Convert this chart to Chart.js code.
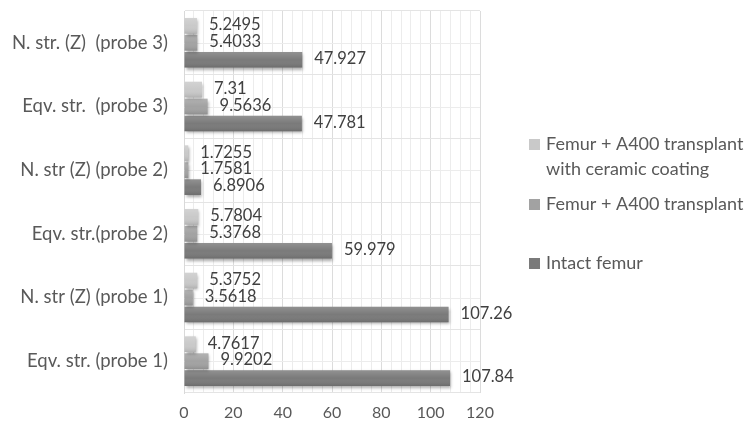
<!DOCTYPE html>
<html>
<head>
<meta charset="utf-8">
<script src="https://cdn.jsdelivr.net/npm/chart.js@4.4.1/dist/chart.umd.min.js"></script>
<style>
  html, body { margin: 0; padding: 0; background: #ffffff; }
  #wrap { width: 747px; height: 430px; position: relative; }
</style>
</head>
<body>
<div id="wrap"><canvas id="c" width="747" height="430"></canvas></div>
<script>
const categories = ['N. str. (Z)  (probe 3)', 'Eqv. str.  (probe 3)', 'N. str (Z) (probe 2)', 'Eqv. str.(probe 2)', 'N. str (Z) (probe 1)', 'Eqv. str. (probe 1)'];
const seriesNames = [['Femur + A400 transplant', 'with ceramic coating'], ['Femur + A400 transplant'], ['Intact femur']];
const ceramic = [5.2495, 7.31, 1.7255, 5.7804, 5.3752, 4.7617];
const a400 = [5.4033, 9.5636, 1.7581, 5.3768, 3.5618, 9.9202];
const intact = [47.927, 47.781, 6.8906, 59.979, 107.26, 107.84];
const xTickLabels = [0, 20, 40, 60, 80, 100, 120];

const colors = ['#c9c9c9', '#a2a2a2', '#7a7a7a'];
const FONT = 'Lato, "Open Sans", sans-serif';

// minor horizontal gridlines through category centres
const midLinesPlugin = {
  id: 'midLines',
  beforeDatasetsDraw(chart) {
    const c = chart.ctx, y = chart.scales.y, a = chart.chartArea;
    c.save();
    c.strokeStyle = '#ececec';
    c.lineWidth = 1;
    chart.data.labels.forEach((_, i) => {
      const py = Math.round(y.getPixelForValue(i)) + 0.5;
      c.beginPath(); c.moveTo(a.left, py); c.lineTo(a.right, py); c.stroke();
    });
    c.restore();
  }
};

const shadowPlugin = {
  id: 'shadow',
  beforeDatasetsDraw(chart) {
    const c = chart.ctx;
    c.save();
    c.shadowColor = 'rgba(0,0,0,0.35)';
    c.shadowBlur = 3;
    c.shadowOffsetX = 1;
    c.shadowOffsetY = 2;
  },
  afterDatasetsDraw(chart) {
    chart.ctx.restore();
  }
};

const shadePlugin = {
  id: 'shade',
  afterDatasetsDraw(chart) {
    const c = chart.ctx;
    c.save();
    chart.data.datasets.forEach((ds, i) => {
      chart.getDatasetMeta(i).data.forEach(el => {
        const top = el.y - el.height / 2, h = el.height;
        const g = c.createLinearGradient(0, top, 0, top + h);
        g.addColorStop(0, 'rgba(255,255,255,0.18)');
        g.addColorStop(0.5, 'rgba(255,255,255,0)');
        g.addColorStop(1, 'rgba(0,0,0,0.12)');
        c.fillStyle = g;
        c.fillRect(el.base, top, el.x - el.base, h);
      });
    });
    c.restore();
  }
};

const labelPlugin = {
  id: 'valueLabels',
  afterDatasetsDraw(chart) {
    const c = chart.ctx;
    c.save();
    c.font = '16.5px ' + FONT;
    c.fillStyle = '#404040';
    c.textBaseline = 'middle';
    c.textAlign = 'left';
    chart.data.datasets.forEach((ds, i) => {
      const meta = chart.getDatasetMeta(i);
      meta.data.forEach((el, j) => {
        c.fillText(String(ds.data[j]), el.x + 12, el.y - 1);
      });
    });
    c.restore();
  }
};

const legendPlugin = {
  id: 'customLegend',
  afterDraw(chart) {
    const c = chart.ctx;
    c.save();
    c.font = '18px ' + FONT;
    c.textBaseline = 'middle';
    c.textAlign = 'left';
    const ys = [144, 204, 263];
    chart.data.datasets.forEach((ds, i) => {
      const y = ys[i];
      c.fillStyle = colors[i];
      c.fillRect(529, y - 5, 11, 11);
      c.fillStyle = '#595959';
      seriesNames[i].forEach((line, k) => {
        c.fillText(line, 546, y + k * 25);
      });
    });
    c.restore();
  }
};

new Chart(document.getElementById('c'), {
  type: 'bar',
  data: {
    labels: categories,
    datasets: [
      { label: seriesNames[0].join(' '), data: ceramic, backgroundColor: colors[0] },
      { label: seriesNames[1].join(' '), data: a400, backgroundColor: colors[1] },
      { label: seriesNames[2].join(' '), data: intact, backgroundColor: colors[2] }
    ]
  },
  options: {
    indexAxis: 'y',
    responsive: false,
    animation: false,
    devicePixelRatio: 1,
    layout: { padding: { top: 11, right: 267, bottom: 0, left: 0 } },
    datasets: { bar: { categoryPercentage: 0.8, barPercentage: 0.92 } },
    plugins: { legend: { display: false }, tooltip: { enabled: false } },
    scales: {
      x: {
        min: 0, max: 120,
        afterFit(s) { s.height = 37; s.paddingLeft = 0; s.paddingRight = 0; },
        ticks: {
          stepSize: 4, autoSkip: false, maxRotation: 0,
          color: '#595959', font: { family: FONT, size: 16 }, padding: 10,
          callback(v) { return xTickLabels.includes(v) ? String(v) : ''; }
        },
        grid: {
          drawTicks: false,
          color(ctx) {
            const v = ctx.tick ? ctx.tick.value : 0;
            return v % 20 === 0 ? '#dcdcdc' : '#ececec';
          }
        },
        border: { display: false }
      },
      y: {
        afterFit(s) { s.width = 184; s.paddingTop = 0; s.paddingBottom = 0; },
        ticks: { color: '#595959', font: { family: FONT, size: 18.5 }, padding: 16 },
        grid: { drawTicks: false, color: '#e4e4e4', offset: true },
        border: { display: true, color: '#d9d9d9' }
      }
    }
  },
  plugins: [midLinesPlugin, shadowPlugin, shadePlugin, labelPlugin, legendPlugin]
});
</script>
</body>
</html>
